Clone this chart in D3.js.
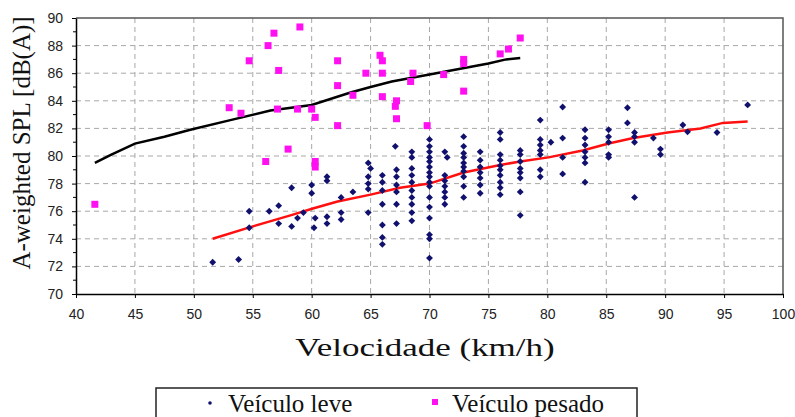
<!DOCTYPE html>
<html>
<head>
<meta charset="utf-8">
<script src="https://cdn.jsdelivr.net/npm/d3@7"></script>
<style>
  body { margin: 0; background: #fff; }
  svg { display: block; }
  .tick text { font-family: "Liberation Sans", Arial, sans-serif; font-size: 14px; fill: #222; }
  .title { font-family: "Liberation Serif", "Times New Roman", serif; fill: #111; }
</style>
</head>
<body>
<svg id="chart" width="795" height="417"></svg>
<script>
// Veículo leve: [velocidade km/h, SPL dB(A)]
const leve = [
  [51.6,72.3],[53.8,72.5],[54.7,76.0],[54.7,74.8],[56.4,76.0],[57.2,76.4],[57.2,75.1],
  [58.3,77.7],[58.3,74.9],[58.8,75.5],[59.3,75.9],[60.0,77.9],[60.0,77.3],[60.3,75.5],[60.2,74.8],
  [61.3,78.5],[61.3,78.2],[61.3,75.6],[61.3,75.1],[62.5,77.0],[62.5,75.9],[62.5,75.4],[63.5,77.4],
  [64.8,79.5],[65.0,79.1],[64.8,78.5],[64.8,78.0],[64.8,77.6],[64.8,75.9],
  [66.0,78.6],[66.0,78.1],[66.0,77.5],[66.0,76.5],[66.0,75.0],[66.0,74.1],[66.0,73.6],
  [67.1,80.7],[67.2,79.0],[67.2,78.5],[67.2,77.9],[67.2,77.4],[67.2,76.5],[67.2,75.1],
  [68.5,80.3],[68.5,79.9],[68.5,79.1],[68.5,78.6],[68.5,78.1],[68.5,77.5],[68.5,77.0],[68.5,76.5],[68.5,75.9],[68.5,75.3],
  [70.0,81.2],[70.0,80.7],[70.0,80.3],[70.0,79.9],[70.0,79.6],[70.0,79.2],[70.0,78.8],[70.0,78.5],[70.0,78.1],
  [70.0,77.8],[70.0,77.0],[70.0,76.3],[70.0,75.5],[70.0,74.3],[70.0,74.0],[70.0,72.6],
  [71.3,80.3],[71.5,79.9],[71.3,78.6],[71.3,78.2],[71.3,77.8],[71.3,77.4],[71.3,77.0],[71.3,76.5],
  [72.9,81.4],[72.9,80.7],[72.9,80.2],[72.9,79.9],[72.9,79.5],[72.9,79.2],[72.9,78.9],[72.9,78.5],[72.9,77.8],[72.9,77.0],
  [74.3,80.3],[74.3,79.7],[74.3,79.2],[74.3,78.8],[74.3,78.4],[74.3,77.9],[74.3,77.3],
  [76.0,81.7],[76.0,81.2],[76.0,80.1],[76.0,79.7],[76.0,79.3],[76.0,79.0],[76.0,78.6],[76.0,78.1],[76.0,77.7],[76.0,77.2],
  [77.7,80.4],[77.7,80.1],[77.7,79.6],[77.7,79.1],[77.7,78.8],[77.7,78.4],[77.7,77.4],[77.7,75.7],
  [79.4,82.6],[79.4,81.2],[79.4,80.8],[79.4,80.4],[79.4,80.1],[79.4,79.0],[79.4,78.5],[80.3,81.0],
  [81.3,83.55],[81.3,81.3],[81.3,79.9],[81.3,78.7],
  [83.2,81.9],[83.2,81.3],[83.2,80.8],[83.2,80.3],[83.2,79.9],[83.2,79.5],[83.2,78.1],
  [85.2,81.9],[85.2,81.4],[85.2,81.0],[85.2,80.1],[85.2,79.9],
  [86.8,83.5],[86.8,82.4],[87.4,81.7],[87.4,81.4],[87.4,81.0],[87.4,77.0],
  [89.0,81.3],[89.6,80.5],[89.6,80.1],[91.5,82.25],[91.9,81.75],[94.4,81.7],[97.0,83.7]
];

// Veículo pesado
const pesado = [
  [41.6,76.5],[53.0,83.5],[54.0,83.1],[54.7,86.9],[56.1,79.6],[56.3,88.0],[56.8,88.9],[57.2,86.2],
  [57.1,83.4],[58.0,80.5],[58.8,83.4],[59.0,89.35],[60.0,83.4],[60.3,82.8],[60.3,79.6],[60.3,79.2],
  [62.2,86.9],[62.2,85.1],[62.2,82.2],[63.5,84.4],[64.6,86.0],[65.8,87.3],[66.0,86.9],[66.0,86.0],
  [66.0,84.3],[67.2,84.0],[67.1,83.6],[67.2,82.7],[68.6,86.0],[68.4,85.4],[69.8,82.2],[71.2,85.9],
  [72.9,87.0],[72.9,86.7],[72.9,84.7],[76.0,87.4],[76.7,87.75],[77.7,88.55]
];

// trend lines
const tendPesado = [
  [41.6,79.5],[43,80.1],[45,80.9],[47.5,81.4],[49.7,81.9],[53.1,82.6],[56.5,83.3],[60,83.7],
  [63.3,84.6],[65,85.0],[66.8,85.4],[70,85.9],[72.5,86.3],[75,86.7],[76.5,87.0],[77.7,87.1]
];
const tendLeve = [
  [51.6,74.0],[54.8,74.85],[58.2,75.7],[60.1,76.2],[62.2,76.7],[65,77.2],[67.5,77.7],[70,78.0],
  [72.9,78.8],[76,79.35],[77.7,79.6],[80.1,79.9],[83,80.4],[85.2,80.9],[87.3,81.3],[90.2,81.7],
  [93,82.0],[94.9,82.4],[97,82.5]
];

const xTicks = [40,45,50,55,60,65,70,75,80,85,90,95,100];
const yTicks = [70,72,74,76,78,80,82,84,86,88,90];
const legendLabels = ["Veículo leve", "Veículo pesado"];

const plot = { left: 76, right: 783, top: 18, bottom: 294 };
const svg = d3.select("#chart");

const x = d3.scaleLinear().domain([40, 100]).range([plot.left, plot.right]);
const y = d3.scaleLinear().domain([70, 90]).range([plot.bottom, plot.top]);

// grid
const grid = svg.append("g").attr("stroke", "#a8a8a8").attr("stroke-dasharray", "5,4").attr("stroke-width", 1);
grid.selectAll(".gx").data(xTicks.slice(1, -1)).join("line")
  .attr("x1", d => x(d)).attr("x2", d => x(d)).attr("y1", plot.top).attr("y2", plot.bottom);
grid.selectAll(".gy").data(yTicks.slice(1, -1)).join("line")
  .attr("y1", d => y(d)).attr("y2", d => y(d)).attr("x1", plot.left).attr("x2", plot.right);

// top / right frame
svg.append("path")
  .attr("d", `M${plot.left},${plot.top}H${plot.right}V${plot.bottom}`)
  .attr("fill", "none").attr("stroke", "#555").attr("stroke-width", 1.5);

// axes
const xAxis = svg.append("g").attr("transform", `translate(0,${plot.bottom})`)
  .call(d3.axisBottom(x).tickValues(xTicks).tickSize(4).tickPadding(11).tickSizeOuter(0));
const yAxis = svg.append("g").attr("transform", `translate(${plot.left},0)`)
  .call(d3.axisLeft(y).tickValues(yTicks).tickSize(4).tickPadding(9).tickSizeOuter(0));
// minor ticks on y
yAxis.selectAll(".minor").data(d3.range(71, 90, 2)).join("line")
  .attr("x1", -3).attr("x2", 0).attr("y1", d => y(d)).attr("y2", d => y(d))
  .attr("stroke", "#000");
[xAxis, yAxis].forEach(a => {
  a.select(".domain").attr("stroke", "#000").attr("stroke-width", 1.5);
  a.selectAll(".tick line").attr("stroke", "#000");
});

// trend lines
const line = d3.line().x(d => x(d[0])).y(d => y(d[1]));
svg.append("path").datum(tendPesado).attr("d", line)
  .attr("fill", "none").attr("stroke", "#000").attr("stroke-width", 2.5);
svg.append("path").datum(tendLeve).attr("d", line)
  .attr("fill", "none").attr("stroke", "#ff1010").attr("stroke-width", 2.5);

// markers
const diamond = d3.symbol().type(d3.symbolDiamond2).size(30);
svg.append("g").selectAll("path").data(leve).join("path")
  .attr("d", diamond)
  .attr("transform", d => `translate(${x(d[0])},${y(d[1])})`)
  .attr("fill", "#10106e");
svg.append("g").selectAll("rect").data(pesado).join("rect")
  .attr("x", d => x(d[0]) - 3.5).attr("y", d => y(d[1]) - 3.5)
  .attr("width", 7).attr("height", 7)
  .attr("fill", "#ff10f0");

// titles
svg.append("text").attr("class", "title")
  .attr("transform", "translate(425,356) scale(1.4,1)").attr("text-anchor", "middle")
  .style("font-size", "25px").text("Velocidade (km/h)");
svg.append("text").attr("class", "title")
  .attr("transform", "translate(30,143) rotate(-90)").attr("text-anchor", "middle")
  .style("font-size", "25px").text("A-weighted SPL [dB(A)]");

// legend (cut by the bottom edge)
const legend = svg.append("g");
legend.append("rect").attr("x", 156).attr("y", 388).attr("width", 481).attr("height", 60)
  .attr("fill", "none").attr("stroke", "#222").attr("stroke-width", 1.5);
legend.append("circle").attr("cx", 210).attr("cy", 403).attr("r", 1.8).attr("fill", "#10106e");
legend.append("rect").attr("x", 432).attr("y", 399).attr("width", 6).attr("height", 6).attr("fill", "#ff10f0");
legend.selectAll("text").data(legendLabels).join("text").attr("class", "title")
  .attr("x", (d, i) => i ? 452 : 228).attr("y", 412)
  .style("font-size", "25px").text(d => d);
</script>
</body>
</html>
